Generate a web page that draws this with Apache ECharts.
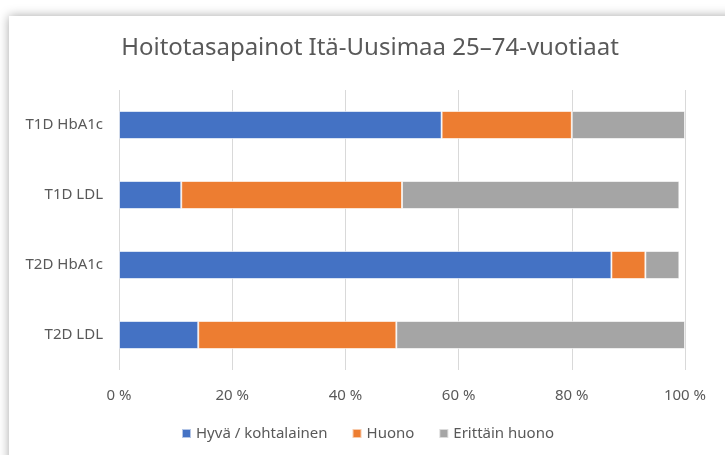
<!DOCTYPE html>
<html>
<head>
<meta charset="utf-8">
<script src="https://cdn.jsdelivr.net/npm/echarts@6/dist/echarts.min.js"></script>
<style>
  html, body { margin: 0; padding: 0; background: #fff; }
  #chart { width: 725px; height: 455px; }
</style>
</head>
<body>
<div id="chart"></div>
<script>
// kategoriat ylhäältä alas
const categories = ['T1D HbA1c', 'T1D LDL', 'T2D HbA1c', 'T2D LDL'];
const seriesNames = ['Hyvä / kohtalainen', 'Huono', 'Erittäin huono'];
const good = [57, 11, 87, 14];
const poor = [23, 39, 6, 35];
const veryPoor = [20, 49, 6, 51];
const xTicks = [0, 20, 40, 60, 80, 100];

const colors = ['#4472c4', '#ed7d31', '#a5a5a5'];
const font = 'Noto Sans';

const chart = echarts.init(document.getElementById('chart'));

const mk = (name, data, i) => ({
    name: name,
    type: 'bar',
    stack: 'total',
    barWidth: 28,
    data: data,
    itemStyle: {color: colors[i], borderColor: 'rgba(255,255,255,0.6)', borderWidth: 1}
});

const option = {
    animation: false,
    graphic: [{
        type: 'rect',
        z: -10,
        shape: {x: 9, y: 16, width: 740, height: 460},
        style: {fill: '#fff', shadowBlur: 10, shadowColor: 'rgba(0,0,0,0.35)', shadowOffsetX: 0, shadowOffsetY: 0}
    }],
    title: {
        text: 'Hoitotasapainot Itä-Uusimaa 25–74-vuotiaat',
        left: 365,
        textAlign: 'center',
        top: 31,
        textStyle: {fontFamily: font, fontWeight: 'normal', fontSize: 24, color: '#595959'}
    },
    legend: {
        bottom: 9,
        left: 176,
        itemWidth: 9,
        itemHeight: 9,
        itemGap: 24,
        icon: 'rect',
        data: seriesNames,
        textStyle: {fontFamily: font, fontSize: 15, color: '#595959'}
    },
    grid: {left: 119, right: 40, top: 90, bottom: 85},
    xAxis: {
        type: 'value',
        min: 0,
        max: 100,
        interval: 20,
        axisLine: {show: false},
        axisTick: {show: false},
        splitLine: {lineStyle: {color: '#d9d9d9', width: 1}},
        axisLabel: {
            fontFamily: font, fontSize: 15, color: '#595959', margin: 18,
            formatter: v => xTicks.includes(v) ? v + ' %' : ''
        }
    },
    yAxis: {
        type: 'category',
        inverse: true,
        data: categories,
        axisLine: {show: false},
        axisTick: {show: false},
        axisLabel: {fontFamily: font, fontSize: 15, color: '#595959', margin: 16}
    },
    series: [
        mk(seriesNames[0], good, 0),
        mk(seriesNames[1], poor, 1),
        mk(seriesNames[2], veryPoor, 2)
    ]
};

chart.setOption(option);
</script>
</body>
</html>
